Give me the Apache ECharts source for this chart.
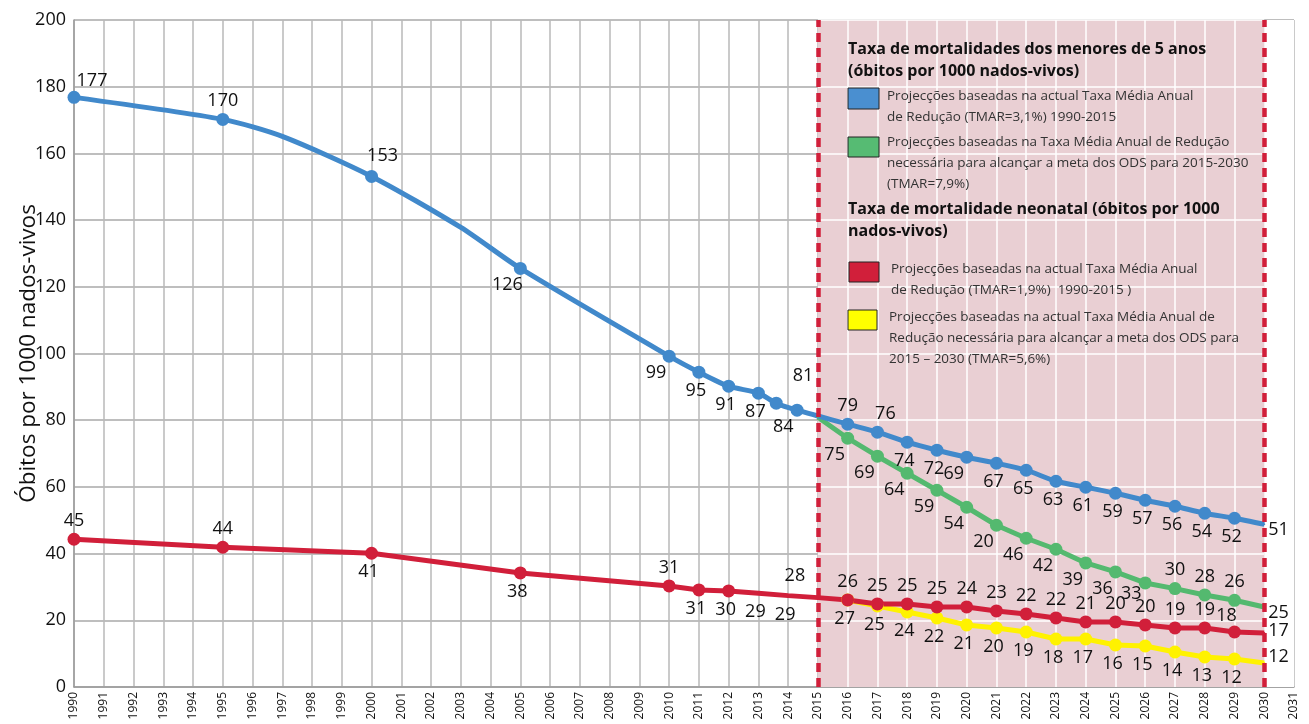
<!DOCTYPE html>
<html><head><meta charset="utf-8">
<script src="https://cdn.jsdelivr.net/npm/echarts@6/dist/echarts.min.js"></script>
<style>html,body{margin:0;padding:0;background:#fff}#c{width:1309px;height:724px}</style>
</head><body><div id="c"></div>
<script>
// ---------------- DATA ----------------
const yTicks = [0, 20, 40, 60, 80, 100, 120, 140, 160, 180, 200];
const xMin = 1990, xMax = 2031;
const projStart = 2015, projEnd = 2030;
const innerYears = [2016, 2017, 2018, 2019, 2020, 2021, 2022, 2023, 2024, 2025, 2026, 2027, 2028, 2029];

// Under-5 mortality, current rate (blue)
const u5Years  = [1990, 1995, 1997, 2000, 2003, 2005, 2010, 2011, 2012, 2013, 2013.6, 2014.3, 2016, 2017, 2018, 2019, 2020, 2021, 2022, 2023, 2024, 2025, 2026, 2027, 2028, 2029, 2030];
const u5Values = [176.8, 170.2, 165.1, 153.1, 137.8, 125.5, 99.2, 94.4, 90.2, 88.1, 85.1, 83.0, 78.8, 76.4, 73.4, 71.0, 68.9, 67.1, 65.0, 61.7, 59.9, 58.1, 56.0, 54.2, 52.1, 50.6, 48.8];
const u5Labels = ['177', '170', '', '153', '', '126', '99', '95', '91', '87', '84', '81', '79', '76', '74', '72', '69', '67', '65', '63', '61', '59', '57', '56', '54', '52', '51'];

// Under-5 mortality, SDG target rate (green)
const u5tYears  = [2015, 2016, 2017, 2018, 2019, 2020, 2021, 2022, 2023, 2024, 2025, 2026, 2027, 2028, 2029, 2030];
const u5tValues = [80.9, 74.6, 69.2, 64.1, 59.0, 53.9, 48.5, 44.6, 41.3, 37.2, 34.5, 31.2, 29.5, 27.6, 26.0, 24.0];
const u5tLabels = ['', '75', '69', '64', '59', '54', '20', '46', '42', '39', '36', '33', '30', '28', '26', '25'];

// Neonatal mortality, current rate (red)
const nnYears  = [1990, 1995, 2000, 2005, 2010, 2011, 2012, 2013, 2014, 2015, 2016, 2017, 2018, 2019, 2020, 2021, 2022, 2023, 2024, 2025, 2026, 2027, 2028, 2029, 2030];
const nnValues = [44.3, 41.9, 40.1, 34.2, 30.3, 29.1, 28.8, 28.1, 27.4, 26.8, 26.1, 24.9, 24.9, 24.0, 24.0, 22.8, 21.9, 20.7, 19.5, 19.5, 18.6, 17.7, 17.7, 16.5, 16.2];
const nnLabels = ['45', '44', '41', '38', '31', '31', '30', '29', '29', '28', '26', '25', '25', '25', '24', '23', '22', '22', '21', '20', '20', '19', '19', '18', '17'];

// Neonatal mortality, SDG target rate (yellow)
const nntYears  = [2016, 2017, 2018, 2019, 2020, 2021, 2022, 2023, 2024, 2025, 2026, 2027, 2028, 2029, 2030];
const nntValues = [26.1, 24.3, 22.5, 20.7, 18.6, 17.7, 16.5, 14.4, 14.4, 12.6, 12.3, 10.5, 9.0, 8.4, 7.2];
const nntLabels = ['27', '25', '24', '22', '21', '20', '19', '18', '17', '16', '15', '14', '13', '12', '12'];

// Legend texts
const legendHead1 = 'Taxa de mortalidades dos menores de 5 anos\n(óbitos por 1000 nados-vivos)';
const legendHead2 = 'Taxa de mortalidade neonatal (óbitos por 1000\nnados-vivos)';
const legendTexts = [
  'Projecções baseadas na actual Taxa Média Anual\nde Redução (TMAR=3,1%) 1990-2015',
  'Projecções baseadas na Taxa Média Anual de Redução\nnecessária para alcançar a meta dos ODS para 2015-2030\n(TMAR=7,9%)',
  'Projecções baseadas na actual Taxa Média Anual\nde Redução (TMAR=1,9%)  1990-2015 )',
  'Projecções baseadas na actual Taxa Média Anual de\nRedução necessária para alcançar a meta dos ODS para\n2015 – 2030 (TMAR=5,6%)'
];
const yAxisTitle = 'Óbitos por 1000 nados-vivos';

// ---------------- STYLE ----------------
const C = { blue: '#4189cb', green: '#54b96f', red: '#d11f3a', yellow: '#fff200', pink: '#e9cfd3' };
const FONT = '"Open Sans", "Noto Sans", sans-serif';
const PLACES = {
  't':   { position: 'top', offset: [0, 0] },
  't2':  { position: 'top', offset: [6, -16] },
  'tr':  { position: 'top', offset: [8, 0] },
  'tr1': { position: 'top', offset: [18, 2] },
  'tr2': { position: 'top', offset: [11, -2] },
  'tl':  { position: 'top', offset: [-8, 2] },
  'b':   { position: 'bottom', offset: [-3, 0] },
  'bl':  { position: 'bottom', offset: [-13, -2] },
  'bl2': { position: 'bottom', offset: [-14, -8] },
  'br':  { position: 'bottom', offset: [7, 5] },
  'b0':  { position: 'bottom', offset: [-3, 6], noSym: true },
  'tl0': { position: 'top', offset: [-23, -9], noSym: true },
  'r':   { position: 'right', offset: [0, 6], noSym: true },
  'r2':  { position: 'right', offset: [0, -2], noSym: true },
  'r3':  { position: 'right', offset: [0, -6], noSym: true },
  '-':   { hide: true, noSym: true }
};
const u5Place  = ['tr1','t','-','tr2','-','bl','bl','b','b','b','br','t2','t','tr','b','b','bl','b','b','b','b','b','b','b','b','b','r'];
const u5tPlace = ['-','bl','bl','bl','bl','bl','bl','bl','bl','bl','bl','bl2','t','t','t','r'];
const nnPlace  = ['t','t','b','b','t','b','b','b0','b0','tl0','t','t','t','t','t','t','t','t','t','t','t','t','t','tl','r2'];
const nntPlace = ['b','b','b','b','b','b','b','b','b','b','b','b','b','b','r3'];

function buildData(xs, ys, labels, places) {
  return xs.map((x, i) => {
    const p = PLACES[places[i]];
    const item = { value: [x, ys[i]] };
    if (p.noSym) item.symbolSize = 2;
    if (p.hide || !labels[i]) {
      item.label = { show: false };
    } else {
      item.label = { show: true, formatter: labels[i], position: p.position, offset: p.offset, distance: 3 };
    }
    return item;
  });
}

function lineSeries(name, color, xs, ys, labels, places, smooth) {
  return {
    name, type: 'line', smooth: smooth || false,
    data: buildData(xs, ys, labels, places),
    symbol: 'circle', symbolSize: 13, showAllSymbol: true,
    lineStyle: { color, width: 5 },
    itemStyle: { color },
    label: { color: '#111', fontSize: 18, fontFamily: FONT },
    z: 3
  };
}

// decorations derived from axis ticks
const whiteLines = innerYears.map(y => ({ xAxis: y }))
  .concat(yTicks.filter(v => v > 0).map(v => [{ coord: [projStart, v] }, { coord: [projEnd, v] }]));

const chart = echarts.init(document.getElementById('c'), null, { renderer: 'canvas' });
chart.setOption({
  animation: false,
  backgroundColor: '#fff',
  grid: { left: 74, right: 15, top: 20, bottom: 37, outerBoundsMode: 'none', containLabel: false },
  xAxis: {
    type: 'value', min: xMin, max: xMax, interval: 1,
    axisLine: { show: true, lineStyle: { color: '#9a9a9a', width: 1.5 } },
    axisTick: { show: false },
    splitLine: { show: true, lineStyle: { color: '#b9b9b9', width: 1.5 } },
    axisLabel: { rotate: 90, fontSize: 12, color: '#111', fontFamily: FONT, margin: 5, formatter: v => String(v) }
  },
  yAxis: {
    type: 'value', min: 0, max: 200, interval: 20,
    name: yAxisTitle, nameLocation: 'middle', nameGap: 34, nameRotate: 90, nameMoveOverlap: false,
    nameTextStyle: { fontSize: 22.5, color: '#111', fontFamily: FONT },
    axisLine: { show: true, lineStyle: { color: '#9a9a9a', width: 1.5 } },
    axisTick: { show: false },
    splitLine: { show: true, lineStyle: { color: '#a8a8a8', width: 1.5 } },
    axisLabel: { fontSize: 18, color: '#111', fontFamily: FONT, margin: 8 }
  },
  series: [
    {
      name: 'decor', type: 'line', data: [], silent: true,
      markArea: {
        silent: true, z: 1,
        data: [
          [{ xAxis: projStart, itemStyle: { color: C.pink, opacity: 1 } }, { xAxis: projEnd }],
          [{ xAxis: projEnd, itemStyle: { color: '#ffffff', opacity: 1 } }, { xAxis: xMax }]
        ]
      },
      markLine: {
        silent: true, z: 1.5, symbol: 'none', label: { show: false },
        lineStyle: { color: '#ffffff', width: 1.5, type: 'solid' },
        data: whiteLines
      }
    },
    {
      name: 'decor2', type: 'line', data: [], silent: true,
      markLine: {
        silent: true, z: 6, symbol: 'none', label: { show: false },
        lineStyle: { color: C.red, width: 4.5, type: [9, 6] },
        data: [{ xAxis: projStart }, { xAxis: projEnd }]
      }
    },
    lineSeries('U5 meta', C.green, u5tYears, u5tValues, u5tLabels, u5tPlace),
    lineSeries('U5 actual', C.blue, u5Years, u5Values, u5Labels, u5Place, 0.25),
    lineSeries('Neonatal meta', C.yellow, nntYears, nntValues, nntLabels, nntPlace),
    lineSeries('Neonatal actual', C.red, nnYears, nnValues, nnLabels, nnPlace)
  ],
  graphic: [
    { type: 'text', left: 848, top: 38, z: 10, style: { text: legendHead1, font: 'bold 16px ' + FONT, fill: '#111', lineHeight: 22 } },
    { type: 'rect', shape: { x: 848, y: 88, width: 31, height: 21 }, z: 10, style: { fill: '#4a8fd0', stroke: '#222', lineWidth: 1 } },
    { type: 'text', left: 887, top: 86, z: 10, style: { text: legendTexts[0], font: '13.5px ' + FONT, fill: '#333', lineHeight: 21 } },
    { type: 'rect', shape: { x: 848, y: 137, width: 31, height: 20 }, z: 10, style: { fill: '#56bb73', stroke: '#222', lineWidth: 1 } },
    { type: 'text', left: 887, top: 132, z: 10, style: { text: legendTexts[1], font: '13.5px ' + FONT, fill: '#333', lineHeight: 21 } },
    { type: 'text', left: 848, top: 198, z: 10, style: { text: legendHead2, font: 'bold 16px ' + FONT, fill: '#111', lineHeight: 22 } },
    { type: 'rect', shape: { x: 849, y: 262, width: 30, height: 20 }, z: 10, style: { fill: '#d11f3a', stroke: '#222', lineWidth: 1 } },
    { type: 'text', left: 891, top: 259, z: 10, style: { text: legendTexts[2], font: '13.5px ' + FONT, fill: '#333', lineHeight: 21 } },
    { type: 'rect', shape: { x: 848, y: 310, width: 29, height: 20 }, z: 10, style: { fill: '#ffff00', stroke: '#222', lineWidth: 1 } },
    { type: 'text', left: 889, top: 307, z: 10, style: { text: legendTexts[3], font: '13.5px ' + FONT, fill: '#333', lineHeight: 21 } }
  ]
});
</script>
</body></html>
